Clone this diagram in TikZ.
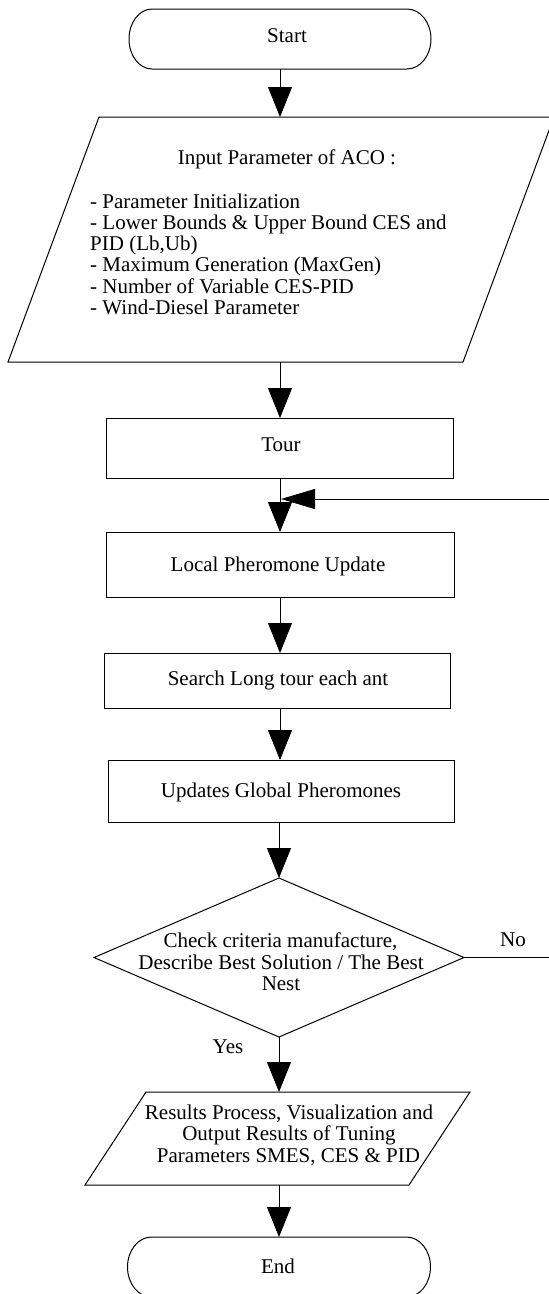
\documentclass[tikz,border=0pt]{standalone}
\usepackage{fontspec}
\setmainfont{Liberation Serif}
\usetikzlibrary{arrows.meta,shapes.geometric}

\begin{document}
\begin{tikzpicture}[x=1pt,y=1pt,
  outline/.style={draw=black,line width=1pt},
  frame/.style={rectangle,inner sep=0pt,outer sep=0pt},
  box/.style={outline,rectangle,inner sep=0pt,outer sep=0pt},
  decision/.style={outline,diamond,inner sep=0pt,outer sep=0pt},
  txt/.style={anchor=base,inner sep=0pt,font=\fontsize{21}{21.5}\selectfont},
  flow/.style={line width=1pt,-{Triangle[length=30pt,width=24pt]}},
  back/.style={line width=1pt,-{Triangle[length=34pt,width=20pt]}}]

\clip (0,0) rectangle (549,-1294);
\fill[white] (0,0) rectangle (549,-1294);

% ---- Start terminal (flat top/bottom, elliptic ends)
\node[frame,minimum width=302pt,minimum height=60pt] (start) at (280,-39) {};
\draw[outline] ([xshift=23pt]start.north west) -- ([xshift=-24pt]start.north east)
  arc[start angle=90,end angle=-90,x radius=24pt,y radius=30pt]
  -- ([xshift=23pt]start.south west)
  arc[start angle=270,end angle=90,x radius=23pt,y radius=30pt] -- cycle;
\node[txt] (start-t) at (287,-42) {Start};

% ---- Input parameters (parallelogram)
\draw[outline] (99,-117) -- (554,-117) -- (463,-362) -- (8,-362) -- cycle;
\coordinate (input-n) at (280,-117);
\coordinate (input-s) at (280,-362);
\node[txt] (input-t) at (287,-164) {Input Parameter of ACO :};
\foreach \t [count=\i from 0] in {%
    {- Parameter Initialization},
    {- Lower Bounds \& Upper Bound CES and},
    {PID (Lb,Ub)},
    {- Maximum Generation (MaxGen)},
    {- Number of Variable CES-PID},
    {- Wind-Diesel Parameter}}
  \node[txt,anchor=base west] (item\i) at (90,-208-21.3*\i) {\t};

% ---- Process boxes
\node[box,minimum width=347pt,minimum height=60pt] (tour) at (280,-448) {};
\node[txt] (tour-t) at (281,-451) {Tour};

\node[box,minimum width=348pt,minimum height=65pt] (local) at (280,-564.5) {};
\node[txt] (local-t) at (278,-571) {Local Pheromone Update};

\node[box,minimum width=346pt,minimum height=55pt] (search) at (277,-680.5) {};
\node[txt] (search-t) at (278,-685) {Search Long tour each ant};

\node[box,minimum width=346pt,minimum height=62pt] (updates) at (281,-791) {};
\node[txt] (updates-t) at (281,-797) {Updates Global Pheromones};

% ---- Decision
\node[decision,minimum width=370pt,minimum height=159pt] (check) at (279,-957.5) {};
\node[txt] (check-t1) at (280.5,-947) {Check criteria manufacture,};
\node[txt] (check-t2) at (281,-969) {Describe Best Solution / The Best};
\node[txt] (check-t3) at (281,-990) {Nest};
\node[txt] (no) at (513,-946) {No};
\node[txt] (yes) at (228,-1053) {Yes};

% ---- Results (parallelogram)
\draw[outline] (146,-1092) -- (470,-1092) -- (409,-1185) -- (85,-1185) -- cycle;
\coordinate (res-n) at (279,-1092);
\coordinate (res-s) at (279,-1185);
\node[txt] (res-t1) at (289,-1119) {Results Process, Visualization and};
\node[txt] (res-t2) at (289,-1140.5) {Output Results of Tuning};
\node[txt] (res-t3) at (288.5,-1162) {Parameters SMES, CES \& PID};

% ---- End terminal
\node[frame,minimum width=303pt,minimum height=60pt] (end) at (279,-1267) {};
\draw[outline] ([xshift=24pt]end.north west) -- ([xshift=-24pt]end.north east)
  arc[start angle=90,end angle=-90,x radius=24pt,y radius=30pt]
  -- ([xshift=24pt]end.south west)
  arc[start angle=270,end angle=90,x radius=24pt,y radius=30pt] -- cycle;
\node[txt] (end-t) at (278,-1273) {End};

% ---- Connectors
\coordinate (merge) at (281,-499);
\draw[flow] (start.south) -- (input-n);
\draw[flow] (input-s) -- (tour.north);
\draw[flow] (tour.south) -- (local.north);
\draw[flow] (local.south) -- (local.south |- search.north);
\draw[flow] (search.south -| local.south) -- (local.south |- updates.north);
\draw[flow] (updates.south -| check.north) -- (check.north);
\draw[flow] (check.south) -- (res-n);
\draw[flow] (res-s) -- (end.north);
\draw[back] (check.east) -- ++(96,0) |- (merge);
\end{tikzpicture}
\end{document}
